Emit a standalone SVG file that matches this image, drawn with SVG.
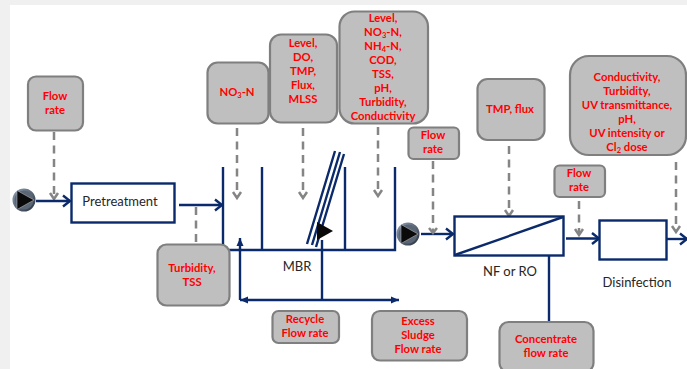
<svg xmlns="http://www.w3.org/2000/svg" width="687" height="369" viewBox="0 0 687 369">
<style>
.b{fill:#bfbfbf;stroke:#7f7f7f;stroke-width:2.200}
.t{font-family:Lato,"Liberation Sans",sans-serif;font-size:11.300px;font-weight:700;fill:#ff0000;text-anchor:middle}
.l{font-family:Lato,"Liberation Sans",sans-serif;font-size:13px;fill:#262626;text-anchor:middle}
.n{fill:none;stroke:#0b2a6b;stroke-width:2.400}
.w{fill:#fff;stroke:#0b2a6b;stroke-width:2.400}
.a{marker-end:url(#ah)}
.d{fill:none;stroke:#858585;stroke-width:2.500;stroke-dasharray:8 5.500}
.h{fill:none;stroke:#858585;stroke-width:2.500}
.s{font-size:7.500px}
</style>
<defs>
<marker id="ah" markerUnits="userSpaceOnUse" markerWidth="12" markerHeight="14" refX="10" refY="7" orient="auto"><path d="M3 1.500L10 7L3 12.500" fill="none" stroke="#0b2a6b" stroke-width="2.400"/></marker>
<marker id="tri" markerUnits="userSpaceOnUse" markerWidth="9" markerHeight="9" refX="8" refY="4.500" orient="auto-start-reverse"><path d="M0 1L8 4.500L0 8z" fill="#0b2a6b"/></marker>
<linearGradient id="pg" x1="0" y1="0" x2="1" y2="1"><stop offset="0" stop-color="#8a9bb0"/><stop offset="1" stop-color="#2c3340"/></linearGradient>
<g id="pump"><circle r="10.500" fill="#5a6675" stroke="url(#pg)" stroke-width="2"/><path d="M-7 -9.500L10 0L-7 9.500z" fill="#0a0a0a" stroke="#c8c8c8" stroke-width="0.500"/></g>
</defs>
<rect width="687" height="369" fill="#fff"/>
<path d="M0 0H687V5H10V369H0z" fill="#f0f0f0"/>

<g id="connectors">
<path class="d" d="M54 132V198"/><path class="h" d="M50 193L54 199L58 193"/>
<path class="n a" d="M36 201H70"/>
<path class="n a" d="M179 205H222"/>
<path class="d" d="M196 207V244"/>
<path class="d" d="M237 128V196"/><path class="h" d="M233 192L237 198L241 192"/>
<path class="d" d="M303 128V196"/><path class="h" d="M299 192L303 198L307 192"/>
<path class="d" d="M378 127V194"/><path class="h" d="M374 190L378 196L382 190"/>
<path class="n" d="M240 300V238" marker-end="url(#tri)"/>
<path class="n" d="M240 300H399" marker-start="url(#tri)" marker-end="url(#tri)"/>
<path class="n" d="M322 300V240"/>
<path class="n a" d="M421 234H453"/>
<path class="d" d="M433 161V231"/><path class="h" d="M429 228L433 233L437 228"/>
<path class="d" d="M509 146V214"/><path class="h" d="M505 210L509 216L513 210"/>
<path class="n" d="M549 255V322"/>
<path class="d" d="M579 201V233"/><path class="h" d="M575 229L579 235L583 229"/>
<path class="n a" d="M566 238.500H599"/>
<path class="n a" d="M667 239H687"/>
<path class="d" d="M676 162V230"/><path class="h" d="M672 226L676 232L680 226"/>
</g>

<g id="mbr">
<path class="n" d="M223 167V250H395V167M262 167V250M345 167V250"/>
<path class="n" d="M307 244L335 151M312 245L340 152M316 247L344 154"/>
<path d="M317 222L333 231L317 240z" fill="#0a0a0a"/>
<text class="l" x="297" y="271">MBR</text>
</g>
<g id="pump1"><use href="#pump" x="24" y="200"/></g>
<g id="pump2"><use href="#pump" x="408" y="234"/></g>
<g id="pretreatment"><rect class="w" x="71.500" y="183.500" width="103" height="39"/><text class="l" x="120" y="206">Pretreatment</text></g>
<g id="nf-ro"><rect class="w" x="454.500" y="216.500" width="109" height="39"/><path class="n" d="M455 255L563 217"/><text class="l" x="510" y="276">NF or RO</text></g>
<g id="disinfection"><rect class="w" x="599.500" y="220.500" width="67" height="39"/><text class="l" x="637" y="287">Disinfection</text></g>

<g id="s-flow1"><rect class="b" x="28" y="76.500" width="55" height="54" rx="8"/><text class="t" x="55" y="100">Flow</text><text class="t" x="55" y="114">rate</text></g>
<g id="s-turbidity"><rect class="b" x="157.500" y="244.500" width="72" height="61" rx="9"/><text class="t" x="192" y="272">Turbidity,</text><text class="t" x="192" y="286">TSS</text></g>
<g id="s-no3"><rect class="b" x="207.500" y="62.500" width="61" height="61" rx="10"/><text class="t" x="237" y="96">NO<tspan class="s" dy="2">3</tspan><tspan dy="-2">-N</tspan></text></g>
<g id="s-level2"><rect class="b" x="270" y="34.500" width="67" height="88" rx="11"/><text class="t" x="303" y="47">Level,</text><text class="t" x="303" y="61">DO,</text><text class="t" x="303" y="75">TMP,</text><text class="t" x="303" y="89">Flux,</text><text class="t" x="303" y="103">MLSS</text></g>
<g id="s-level3"><rect class="b" x="339.500" y="11.500" width="88.500" height="112" rx="15"/><text class="t" x="383" y="22">Level,</text><text class="t" x="383" y="36">NO<tspan class="s" dy="2">3</tspan><tspan dy="-2">-N,</tspan></text><text class="t" x="383" y="50">NH<tspan class="s" dy="2">4</tspan><tspan dy="-2">-N,</tspan></text><text class="t" x="383" y="64">COD,</text><text class="t" x="383" y="78">TSS,</text><text class="t" x="383" y="92">pH,</text><text class="t" x="383" y="106">Turbidity,</text><text class="t" x="383" y="120">Conductivity</text></g>
<g id="s-flow2"><rect class="b" x="408.500" y="127.500" width="50.500" height="31.500" rx="5"/><text class="t" x="433" y="139">Flow</text><text class="t" x="433" y="153">rate</text></g>
<g id="s-tmp"><rect class="b" x="477.500" y="79" width="67" height="61" rx="10"/><text class="t" x="510" y="113">TMP, flux</text></g>
<g id="s-flow3"><rect class="b" x="554.500" y="165.500" width="50.500" height="31.500" rx="5"/><text class="t" x="579" y="177">Flow</text><text class="t" x="579" y="191">rate</text></g>
<g id="s-big"><rect class="b" x="570" y="56" width="116" height="99" rx="19"/><text class="t" x="627" y="81">Conductivity,</text><text class="t" x="627" y="95">Turbidity,</text><text class="t" x="627" y="109">UV transmittance,</text><text class="t" x="627" y="123">pH,</text><text class="t" x="627" y="137">UV intensity or</text><text class="t" x="627" y="151">Cl<tspan class="s" dy="2">2</tspan><tspan dy="-2"> dose</tspan></text></g>
<g id="s-recycle"><rect class="b" x="272.500" y="311" width="66.500" height="32" rx="6"/><text class="t" x="305" y="323">Recycle</text><text class="t" x="305" y="337">Flow rate</text></g>
<g id="s-excess"><rect class="b" x="372" y="311" width="95" height="49.500" rx="8"/><text class="t" x="418" y="325">Excess</text><text class="t" x="418" y="339">Sludge</text><text class="t" x="418" y="353">Flow rate</text></g>
<g id="s-concentrate"><rect class="b" x="499.500" y="322" width="94" height="50" rx="9"/><text class="t" x="546" y="343">Concentrate</text><text class="t" x="546" y="357">flow rate</text></g>
</svg>
